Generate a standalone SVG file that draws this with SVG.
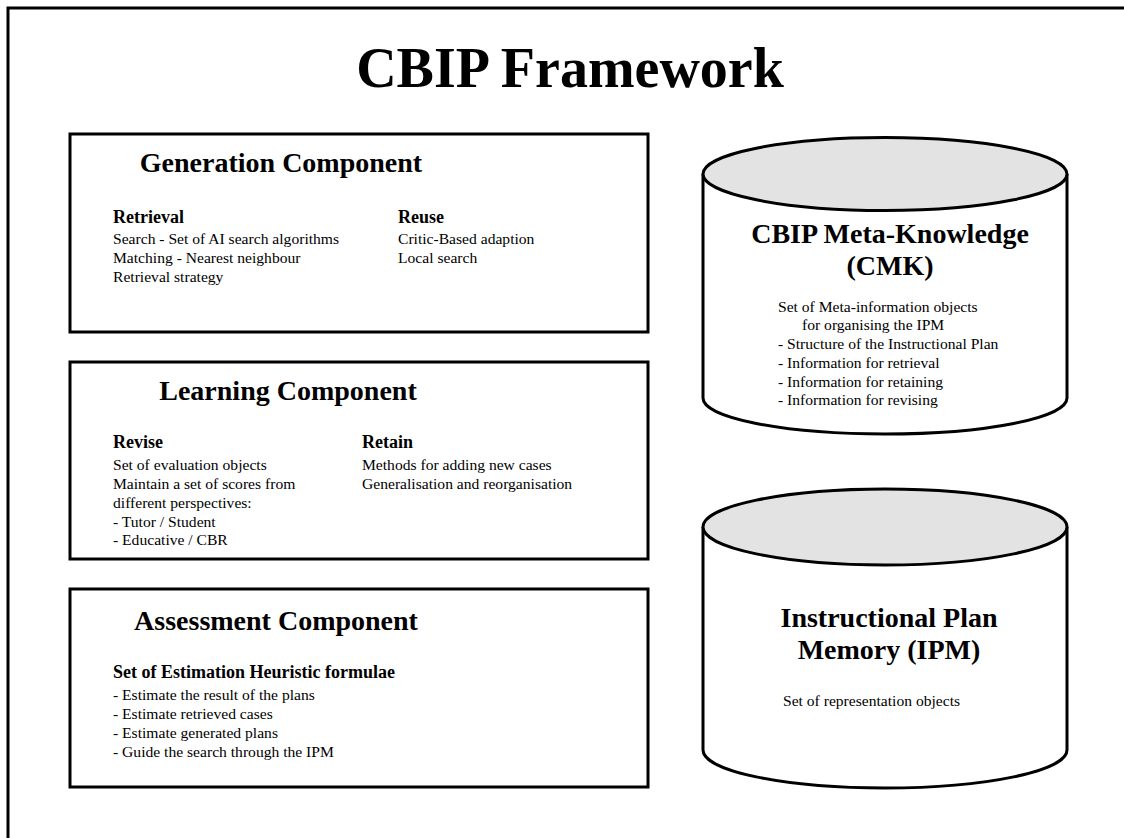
<svg xmlns="http://www.w3.org/2000/svg" width="1124" height="838" viewBox="0 0 1124 838">
<style>
.frame{fill:none;stroke:#000;stroke-width:3}
.box{fill:#fff;stroke:#000;stroke-width:3}
.cyl{fill:#fff;stroke:#000;stroke-width:3}
.lid{fill:#e3e3e3;stroke:#000;stroke-width:3}
text{font-family:"Liberation Serif","Times New Roman",serif;fill:#000}
.title{font-size:56px;font-weight:bold}
.h1{font-size:28px;font-weight:bold}
.h2{font-size:18px;font-weight:bold}
.b{font-size:15.6px}
</style>
<rect width="1124" height="838" fill="#fff"/>
<path class="frame" d="M8 838 V8 H1124"/>
<text class="title" x="570" y="87" text-anchor="middle">CBIP Framework</text>

<g id="generation">
<rect class="box" x="70" y="134" width="578" height="198"/>
<text class="h1" x="281" y="172" text-anchor="middle">Generation Component</text>
<text class="h2" x="113" y="223">Retrieval</text>
<text class="b" x="113" y="244">Search - Set of AI search algorithms</text>
<text class="b" x="113" y="263">Matching - Nearest neighbour</text>
<text class="b" x="113" y="282">Retrieval strategy</text>
<text class="h2" x="398" y="223">Reuse</text>
<text class="b" x="398" y="244">Critic-Based adaption</text>
<text class="b" x="398" y="263">Local search</text>
</g>

<g id="learning">
<rect class="box" x="70" y="362" width="578" height="197"/>
<text class="h1" x="288" y="400" text-anchor="middle">Learning Component</text>
<text class="h2" x="113" y="448">Revise</text>
<text class="b" x="113" y="470">Set of evaluation objects</text>
<text class="b" x="113" y="489">Maintain a set of scores from</text>
<text class="b" x="113" y="508">different perspectives:</text>
<text class="b" x="113" y="527">- Tutor / Student</text>
<text class="b" x="113" y="545">- Educative / CBR</text>
<text class="h2" x="362" y="448">Retain</text>
<text class="b" x="362" y="470">Methods for adding new cases</text>
<text class="b" x="362" y="489">Generalisation and reorganisation</text>
</g>

<g id="assessment">
<rect class="box" x="70" y="589" width="578" height="198"/>
<text class="h1" x="276" y="630" text-anchor="middle">Assessment Component</text>
<text class="h2" x="113" y="678">Set of Estimation Heuristic formulae</text>
<text class="b" x="113" y="700">- Estimate the result of the plans</text>
<text class="b" x="113" y="719">- Estimate retrieved cases</text>
<text class="b" x="113" y="738">- Estimate generated plans</text>
<text class="b" x="113" y="757">- Guide the search through the IPM</text>
</g>

<g id="cmk">
<path class="cyl" d="M703 174 V398 A182 36 0 0 0 1067 398 V174"/>
<ellipse class="lid" cx="885" cy="174" rx="182" ry="36.5"/>
<text class="h1" x="890" y="243" text-anchor="middle">CBIP Meta-Knowledge</text>
<text class="h1" x="890" y="275" text-anchor="middle">(CMK)</text>
<text class="b" x="778" y="312">Set of Meta-information objects</text>
<text class="b" x="802" y="330">for organising the IPM</text>
<text class="b" x="778" y="349">- Structure of the Instructional Plan</text>
<text class="b" x="778" y="368">- Information for retrieval</text>
<text class="b" x="778" y="387">- Information for retaining</text>
<text class="b" x="778" y="405">- Information for revising</text>
</g>

<g id="ipm">
<path class="cyl" d="M703 527 V750 A182 38 0 0 0 1067 750 V527"/>
<ellipse class="lid" cx="885" cy="527" rx="182" ry="38"/>
<text class="h1" x="889" y="627" text-anchor="middle">Instructional Plan</text>
<text class="h1" x="889" y="659" text-anchor="middle">Memory (IPM)</text>
<text class="b" x="783" y="706">Set of representation objects</text>
</g>

<g id="connectors"></g>
</svg>
